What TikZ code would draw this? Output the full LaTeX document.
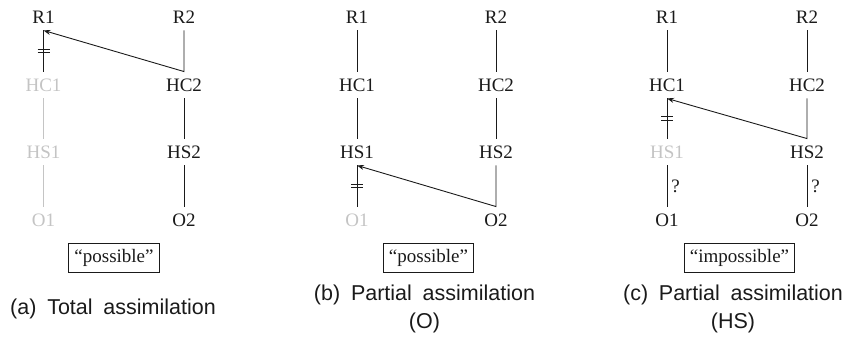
\documentclass[tikz,border=0pt]{standalone}
\usepackage{fontspec}
\setmainfont{Liberation Serif}
\newfontfamily\capfont{Liberation Sans}
\usetikzlibrary{arrows.meta, calc}
\definecolor{cink}{HTML}{1A1A1A}
\definecolor{cfade}{HTML}{C4C4C4}
\tikzset{
  every picture/.style={line width=0.9pt},
  seg/.style={inner sep=0pt, minimum height=26pt, text height=12.5pt, text depth=0pt, font=\fontsize{19}{21}\selectfont, text=cink},
  link/.style={draw=cink},
  faded/.style={draw=cfade},
  spread/.style={-{Stealth[length=7pt, width=5pt]}, draw=cink},
  verdict/.style={draw=cink, line width=1pt, inner sep=5.5pt, font=\fontsize{19}{21}\selectfont, text=cink},
  caption/.style={font=\capfont\fontsize{21.5}{28}\selectfont, align=center, text=cink},
  query/.style={right, inner sep=4pt, font=\fontsize{19}{21}\selectfont, text=cink},
}
\newcommand{\capgap}{\hspace{0.5em}}
% a tier line broken by a delinking mark
\newcommand{\delink}[2]{%
  \draw[link] (#1.south) -- (#2.north) coordinate[midway] (cut);
  \draw[link] ($(cut)+(-6,-1.8)$) -- ++(12,0) ($(cut)+(-6,1.8)$) -- ++(12,0);
}

\begin{document}
\begin{tikzpicture}[x=1pt, y=-1pt]
  \useasboundingbox (0,0) rectangle (849,343);
  % (a) total assimilation: R2 spreads to R1, the left tree below R1 is lost
  \foreach \lab/\row/\c in {R/17/cink, HC/85/cfade, HS/152/cfade, O/220/cfade} {
    \node[seg, text=\c] (a\lab1) at (43.5,\row) {\lab1};
    \node[seg] (a\lab2) at (184,\row) {\lab2};
  }
  \delink{aR1}{aHC1}
  \draw[faded] (aHC1.south) -- (aHS1.north) (aHS1.south) -- (aO1.north);
  \draw[link] (aHC2.south) -- (aHS2.north) (aHS2.south) -- (aO2.north);
  \draw[spread] (aR2.south) -- (aHC2.north) -- (aR1.south);
  \node[verdict] (a-box) at (114,258) {``possible''};
  \node[caption] (a-cap) at (113,309) {(a)\capgap Total\capgap assimilation};

  % (b) partial assimilation of O
  \foreach \lab/\row/\c in {R/17/cink, HC/85/cink, HS/152/cink, O/220/cfade} {
    \node[seg, text=\c] (b\lab1) at (357,\row) {\lab1};
    \node[seg] (b\lab2) at (496,\row) {\lab2};
  }
  \draw[link] (bR1.south) -- (bHC1.north) (bHC1.south) -- (bHS1.north);
  \delink{bHS1}{bO1}
  \draw[link] (bR2.south) -- (bHC2.north) (bHC2.south) -- (bHS2.north);
  \draw[spread] (bHS2.south) -- (bO2.north) -- (bHS1.south);
  \node[verdict] (b-box) at (428.5,258) {``possible''};
  \node[caption] (b-cap) at (424.5,309) {(b)\capgap Partial\capgap assimilation\\(O)};

  % (c) partial assimilation of HS
  \foreach \lab/\row/\c in {R/17/cink, HC/85/cink, HS/152/cfade, O/220/cink} {
    \node[seg, text=\c] (c\lab1) at (667,\row) {\lab1};
    \node[seg] (c\lab2) at (807,\row) {\lab2};
  }
  \draw[link] (cR1.south) -- (cHC1.north);
  \delink{cHC1}{cHS1}
  \draw[link] (cHS1.south) -- (cO1.north) node[midway, query] {?};
  \draw[link] (cR2.south) -- (cHC2.north);
  \draw[spread] (cHC2.south) -- (cHS2.north) -- (cHC1.south);
  \draw[link] (cHS2.south) -- (cO2.north) node[midway, query] {?};
  \node[verdict] (c-box) at (739.5,258) {``impossible''};
  \node[caption] (c-cap) at (733,309) {(c)\capgap Partial\capgap assimilation\\(HS)};
\end{tikzpicture}
\end{document}
